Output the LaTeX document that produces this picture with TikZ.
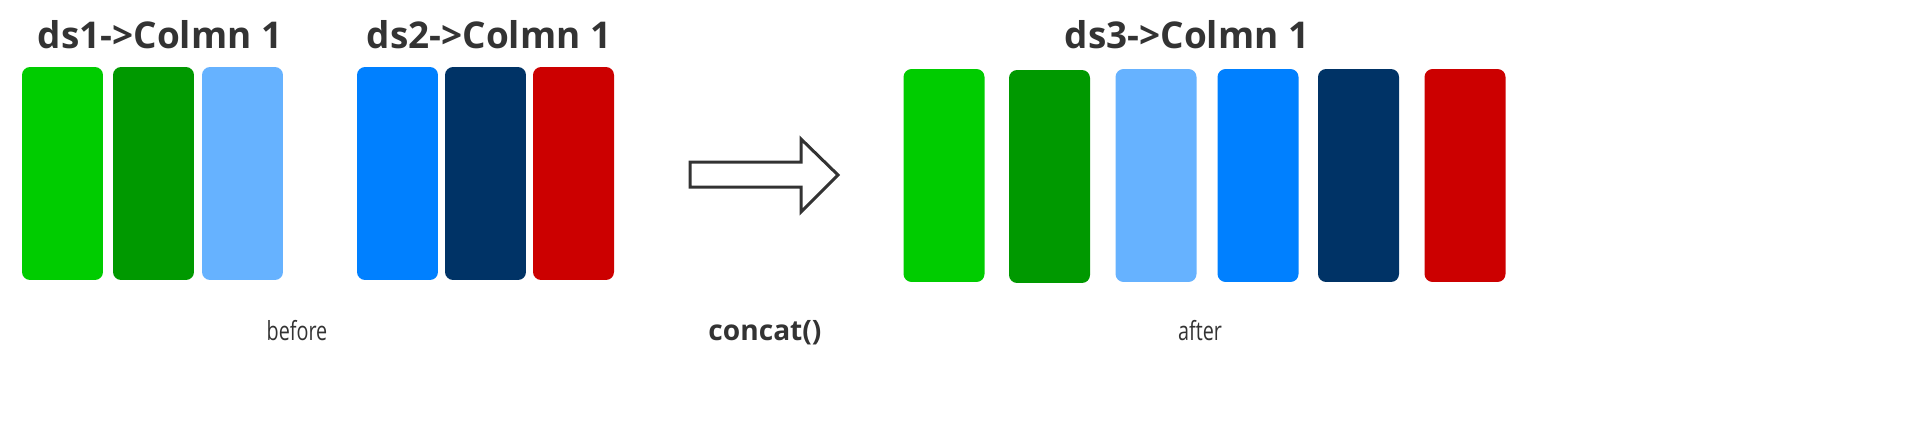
\documentclass[tikz,border=0pt]{standalone}
\usepackage{fontspec}
\setmainfont{Open Sans}
\newfontfamily\narrowfont[FakeStretch=0.75]{Open Sans}
\usepackage{xcolor}
\definecolor{textgray}{RGB}{51, 51, 51}
\definecolor{colgreen}{RGB}{0, 204, 0}
\definecolor{coldarkgreen}{RGB}{0, 153, 0}
\definecolor{collightblue}{RGB}{102, 178, 255}
\definecolor{colblue}{RGB}{0, 128, 255}
\definecolor{colnavy}{RGB}{0, 51, 102}
\definecolor{colred}{RGB}{204, 0, 0}

\begin{document}
\begin{tikzpicture}[
        x=0.02cm, y=-0.02cm,
        column/.style={rectangle, rounded corners=0.16cm, minimum width=1.62cm, minimum height=4.26cm, inner sep=0pt},
        title/.style={anchor=base, text=textgray, font=\fontsize{21}{24}\selectfont\bfseries},
        caption/.style={anchor=base, text=textgray, font=\narrowfont\fontsize{15}{18}\selectfont},
        hollowarrow/.style={draw=textgray, line width=0.06cm, fill=white}
    ]
    \useasboundingbox (0,0) rectangle (1926,436);

    % Titles
    \node[title] (title1) at (160, 48) {ds1->Colmn 1};
    \node[title] (title2) at (489, 48) {ds2->Colmn 1};
    \node[title] (title3) at (1187, 48) {ds3->Colmn 1};

    % Before: ds1
    \node[column, fill=colgreen] (a1) at (62.5, 173.5) {};
    \node[column, fill=coldarkgreen] (a2) at (153.5, 173.5) {};
    \node[column, fill=collightblue] (a3) at (242.5, 173.5) {};

    % Before: ds2
    \node[column, fill=colblue] (b1) at (397.5, 173.5) {};
    \node[column, fill=colnavy] (b2) at (485.5, 173.5) {};
    \node[column, fill=colred] (b3) at (573.5, 173.5) {};

    % After: ds3
    \node[column, fill=colgreen] (c1) at (944, 175.5) {};
    \node[column, fill=coldarkgreen] (c2) at (1049.5, 176.5) {};
    \node[column, fill=collightblue] (c3) at (1156, 175.5) {};
    \node[column, fill=colblue] (c4) at (1258, 175.5) {};
    \node[column, fill=colnavy] (c5) at (1358.5, 175.5) {};
    \node[column, fill=colred] (c6) at (1465, 175.5) {};

    % Arrow
    \draw[hollowarrow] (690, 162) -- (801, 162) -- (801, 139) -- (838, 175)
        -- (801, 212) -- (801, 187) -- (690, 187) -- cycle;

    % Captions
    \node[caption] (before) at (297, 340) {before};
    \node[caption, font=\fontsize{16}{18}\selectfont\bfseries] (concat) at (765, 340) {concat()};
    \node[caption] (after) at (1200, 340) {after};

\end{tikzpicture}
\end{document}
